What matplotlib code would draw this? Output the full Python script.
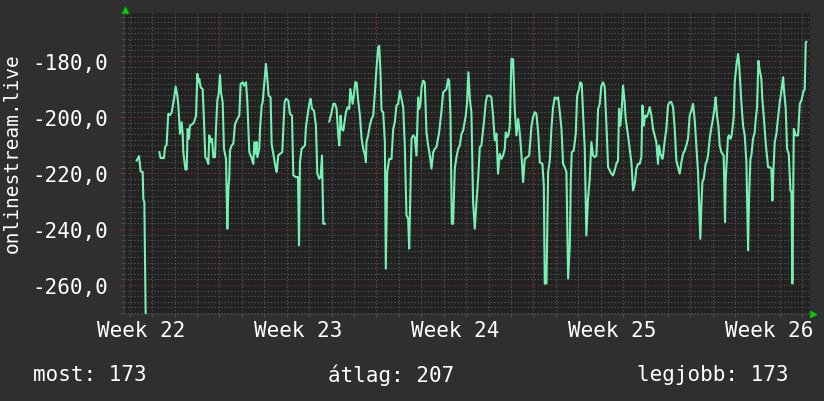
import matplotlib
matplotlib.use("Agg")
import matplotlib.pyplot as plt
from matplotlib.ticker import MultipleLocator, FuncFormatter

nan = float("nan")

# horas desde el inicio del primer dia visible, y posicion (negativa) en el ranking
horas = [
    7.5, 10.0, 11.7, 13.9, 14.6, 15.7, 17.4,
    24.0,
    31.7, 33.1, 36.7, 37.8, 39.5, 41.3, 43.1, 44.9, 47.4, 49.2, 51.0, 52.1,
    53.8, 55.6, 56.7, 57.4, 59.6, 61.0, 62.0, 63.5, 64.5, 67.4, 68.8, 71.0,
    72.4, 73.5, 74.5, 75.9, 78.1, 79.5, 80.9, 82.4, 84.2, 85.2, 86.7, 88.1,
    89.5, 91.3, 92.4, 93.8, 95.2, 96.6, 97.7, 99.5, 100.9, 103.1, 104.5, 105.6,
    106.6, 107.3, 109.1, 110.9, 112.7, 113.7, 115.2, 117.3, 118.7, 120.9, 122.3,
    124.5, 125.9, 128.0, 130.2, 132.3, 133.4, 135.1, 135.9, 136.6, 138.7, 139.4,
    141.2, 142.3, 144.8, 145.8, 147.3, 148.7, 150.8, 151.9, 153.7, 155.8, 157.3,
    159.0, 160.8, 163.3, 164.4, 165.8, 167.2, 169.7, 171.5, 173.7, 175.1, 177.9,
    180.1, 181.2, 182.2, 184.0, 185.8, 187.6, 188.6, 190.8, 192.2, 193.6, 195.1,
    197.2, 199.3, 200.8, 202.9, 204.3, 205.8, 207.2, 209.0,
    211.0,
    213.6, 216.1, 217.9, 219.7, 221.4, 223.2, 224.3, 225.7, 226.8, 228.6, 231.4,
    233.2, 235.0, 236.1, 237.5, 238.6, 240.0, 241.4, 242.8, 244.3, 246.4, 248.2,
    250.0, 251.8, 252.8, 253.4, 255.2, 257.0, 258.8, 260.6, 262.3, 264.1, 265.9,
    267.0, 268.4, 269.5, 271.3, 273.1, 274.1, 275.6, 277.7, 280.2, 282.0, 283.7,
    285.5, 287.3, 289.1, 290.9, 292.7, 294.4, 296.2, 298.0, 299.1, 300.5, 301.6,
    303.4, 305.1, 306.9, 308.7, 309.8, 311.2, 312.3, 314.1, 315.8, 317.6, 319.4,
    321.2, 323.0, 324.8, 326.5, 328.3, 331.2, 333.7, 335.4, 337.2, 339.0, 340.8,
    341.9, 343.3, 344.7, 346.1, 347.9, 349.7, 351.5, 353.3, 355.1, 356.8, 359.7,
    361.1, 362.5, 364.0, 365.7, 367.5, 369.3, 371.1, 372.9, 374.7, 376.4, 378.9,
    381.1, 382.5, 385.3, 387.1, 388.9, 390.7, 392.5, 394.2, 396.0, 397.8, 399.6,
    401.4, 402.5, 403.9, 405.3, 406.8, 408.5, 410.3, 412.1, 413.9, 415.7, 417.4,
    419.2, 421.0, 422.8, 425.3, 427.5, 430.0, 431.7, 433.5, 435.3, 437.1, 438.9,
    441.7, 443.2, 444.2, 446.0, 447.8, 449.6, 451.4, 453.1, 454.9, 456.7, 458.5,
    460.3, 462.1, 463.8, 465.6, 467.4, 469.2, 471.0, 472.1, 473.1, 475.2, 477.4,
    478.8, 480.9, 482.3, 483.8, 485.2, 487.0, 488.7, 490.5, 492.3, 494.1, 495.9,
    497.7, 499.5, 501.3, 503.0, 504.8, 506.6, 508.4, 510.2, 512.0, 513.7, 515.5,
    517.2, 519.0, 520.8, 522.6, 523.7, 525.1, 526.5, 528.0, 529.7, 530.8, 533.3,
    535.1, 536.9, 538.7, 540.5, 542.2, 544.0, 545.8, 547.6, 548.7, 550.1, 551.5,
    552.9, 554.7, 556.5, 558.3, 560.1, 561.8, 563.6, 565.4, 566.5, 567.9, 570.1,
    570.8, 572.6, 574.3, 576.1, 577.9, 579.7, 581.5, 583.3, 585.0, 586.8, 588.6,
    590.4, 592.2, 594.0, 595.7, 597.5, 599.3, 601.1, 602.9, 604.7, 606.4, 608.2,
    609.3, 610.7, 611.8, 612.9, 614.3, 616.4, 617.8, 618.9, 620.7, 622.5, 624.2,
    626.0, 627.1, 628.5, 630.0, 631.4, 633.2, 635.7, 637.1, 637.8, 639.2, 640.3,
    641.4, 642.8, 643.9, 645.0, 646.4, 647.5, 649.3, 651.1, 652.1, 652.8, 654.6,
    656.4, 658.2, 660.0, 661.8, 662.8, 664.3, 665.3, 667.1, 668.9, 670.0, 671.4,
    672.8, 674.3, 676.0, 677.1, 678.5, 680.7, 683.2, 685.0, 686.7, 687.8, 688.9,
    690.3, 692.1, 693.9, 695.7, 697.5, 699.3, 700.3, 702.1, 703.5, 705.3, 707.1,
    708.2, 709.2, 710.7, 712.8, 715.3, 717.1, 718.9, 720.7, 722.4, 723.5, 724.2,
]
rango = [
    -215.5, -213.9, -219.4, -219.6, -229.2, -230.4, -280.0,
    nan,
    -212.5, -214.6, -214.6, -210.7, -209.9, -198.8, -199.2, -198.4, -193.4, -189.0, -192.3, -195.8,
    -205.9, -201.8, -205.9, -212.5, -218.7, -218.7, -204.2, -207.7, -203.0, -202.4, -201.8, -199.4,
    -184.5, -187.5, -186.3, -189.3, -189.9, -201.2, -214.3, -214.9, -216.7, -206.5, -208.9, -207.7,
    -214.3, -214.3, -203.6, -194.0, -191.7, -184.9, -191.1, -194.6, -211.3, -214.9, -239.9, -225.6,
    -221.4, -211.9, -210.1, -209.5, -202.4, -201.8, -200.6, -199.4, -188.1, -187.5, -188.7,
    -187.5, -194.6, -212.5, -214.3, -216.7, -208.9, -213.1, -208.9, -214.3, -211.3, -204.8,
    -195.8, -194.6, -185.1, -180.9, -186.3, -192.3, -192.9, -209.5, -213.1, -217.3, -219.6,
    -213.7, -213.1, -212.5, -204.2, -194.6, -193.4, -194.0, -198.8, -199.4, -220.8, -221.4,
    -221.4, -245.8, -216.1, -211.3, -210.7, -210.1, -203.6, -198.2, -195.2, -193.4, -197.0,
    -197.6, -203.0, -220.2, -222.0, -221.4, -213.7, -238.1, -238.1,
    nan,
    -201.5, -198.2, -195.2, -195.2, -197.0, -206.5, -210.1, -199.4, -204.2, -204.8, -198.2,
    -196.4, -197.0, -189.9, -192.9, -195.2, -191.7, -187.5, -187.5, -193.4, -199.4, -207.7,
    -211.3, -213.7, -216.1, -208.9, -206.5, -203.0, -200.6, -199.4, -191.7, -182.7, -175.0,
    -174.4, -183.9, -197.6, -198.2, -208.9, -254.2, -219.6, -214.9, -214.9, -204.2, -201.8,
    -195.8, -195.2, -190.5, -193.4, -196.4, -210.1, -235.1, -236.3, -247.0, -225.6, -207.7,
    -206.5, -207.1, -213.7, -192.9, -197.0, -195.2, -189.3, -186.9, -187.5, -205.4, -210.1,
    -213.7, -218.4, -212.5, -211.3, -210.7, -205.4, -197.6, -191.1, -190.5, -189.9, -186.3,
    -186.9, -199.4, -238.1, -238.1, -218.4, -214.3, -211.3, -210.1, -205.9, -204.8, -199.4,
    -194.6, -183.9, -193.4, -198.2, -230.4, -239.9, -230.4, -222.0, -210.7, -210.1, -202.4,
    -194.6, -192.3, -192.3, -192.9, -199.4, -208.3, -205.9, -220.2, -213.1, -214.9, -213.7,
    -211.3, -205.4, -207.1, -206.5, -203.0, -179.2, -179.2, -197.0, -206.5, -200.6, -205.4,
    -213.1, -223.2, -214.9, -214.3, -213.7, -203.0, -200.0, -198.2, -198.8, -205.4, -216.1,
    -216.7, -224.4, -259.5, -259.5, -219.6, -215.5, -203.6, -196.4, -192.9, -193.4, -192.9,
    -198.2, -204.2, -216.7, -217.9, -219.6, -257.7, -245.8, -222.0, -212.5, -211.9, -205.9,
    -192.3, -189.9, -187.5, -188.1, -198.8, -211.3, -242.3, -229.2, -222.0, -208.9, -213.7,
    -214.3, -213.7, -197.0, -195.2, -188.7, -187.5, -189.3, -203.0, -217.9, -219.0, -220.2,
    -220.8, -219.0, -216.7, -215.5, -197.0, -203.0, -197.6, -188.7, -194.6, -200.6, -206.5,
    -211.3, -216.1, -226.2, -223.8, -218.4, -216.7, -216.7, -214.3, -195.8, -203.0, -199.4,
    -200.0, -198.8, -196.4, -199.4, -204.2, -206.5, -208.9, -216.7, -210.1, -213.1, -214.9,
    -213.7, -208.3, -204.2, -195.8, -194.6, -194.6, -196.4, -204.2, -215.5, -217.9, -220.2,
    -216.1, -213.1, -211.9, -210.1, -207.7, -199.4, -197.6, -195.2, -201.2, -210.1, -219.6,
    -230.4, -243.5, -231.5, -223.2, -222.0, -216.7, -215.5, -213.7, -207.7, -203.6, -200.6,
    -196.4, -192.9, -199.4, -203.0, -210.1, -212.5, -213.7, -237.5, -223.2, -213.7, -207.1,
    -206.5, -207.7, -207.1, -204.2, -200.0, -187.5, -181.5, -177.4, -180.4, -184.5, -194.6,
    -203.0, -206.5, -216.1, -247.6, -229.2, -214.9, -213.7, -207.7, -205.4, -200.6, -196.4,
    -179.8, -183.3, -186.3, -194.0, -199.4, -209.5, -217.9, -217.9, -218.4, -229.8, -219.0,
    -208.9, -205.9, -200.0, -194.6, -190.5, -185.7, -190.5, -197.0, -211.3, -213.1, -226.2,
    -226.8, -259.5, -204.2, -206.5, -206.5, -195.2, -194.0, -191.1, -189.9, -173.2, -173.0,
]

semanas = ["Week 22", "Week 23", "Week 24", "Week 25", "Week 26"]
pos_semanas = [12, 180, 348, 516, 684]
inicio_semanas = [96, 264, 432, 600]
leyenda = ["most: 173", "átlag: 207", "legjobb: 173"]
titulo_y = "onlinestream.live"

fondo = "#2f2f2f"
fondo_graf = "#222222"
color_linea = "#78f0b4"
gris = "#5c5c5c"
rojo = "#8a3434"
puntos = (0, (1, 2))

plt.rcParams["font.family"] = ["DejaVu Sans Mono"]

fig = plt.figure(figsize=(8.24, 4.02), dpi=100, facecolor=fondo)
ax = fig.add_axes([0.1499, 0.2164, 0.8326, 0.7488], facecolor=fondo_graf)
ax.set_xlim(-6.6, 727.6)
ax.set_ylim(-270.4, -162.7)

# rejilla: dias y cada 2 puestos en gris, semanas y cada 20 en rojo
ax.xaxis.set_minor_locator(MultipleLocator(24))
ax.yaxis.set_minor_locator(MultipleLocator(2))
ax.yaxis.set_major_locator(MultipleLocator(20))
ax.grid(which="minor", color=gris, ls=puntos, lw=0.8)
ax.grid(which="major", axis="y", color=rojo, ls=puntos, lw=0.8)
for h in inicio_semanas:
    ax.axvline(h, color=rojo, ls=puntos, lw=0.8)
ax.set_axisbelow(True)

ax.set_xticks(pos_semanas)
ax.set_xticklabels(semanas)
ax.yaxis.set_major_formatter(FuncFormatter(lambda v, p: f"{v:.1f}".replace(".", ",")))

ax.tick_params(axis="x", which="major", length=0, pad=4.5, labelsize=15, colors="white")
ax.tick_params(axis="y", which="major", length=3, pad=8, labelsize=15, colors="white")
ax.tick_params(which="minor", length=2, color=gris)
ax.tick_params(axis="y", which="major", color=rojo)

for lado in ["top", "right"]:
    ax.spines[lado].set_visible(False)
for lado in ["left", "bottom"]:
    ax.spines[lado].set_color("#3c3c3c")

ax.plot(horas, rango, color=color_linea, lw=1.5)

# flechitas verdes de los ejes
ax.plot([0.002], [1.01], marker="^", ms=5, color="#00cc00", transform=ax.transAxes, clip_on=False)
ax.plot([1.005], [0.0], marker=">", ms=5, color="#00cc00", transform=ax.transAxes, clip_on=False)

fig.text(12 / 824, 1 - 153 / 402, titulo_y, rotation=90, ha="center", va="center",
         color="white", fontsize=14)
for texto, x in zip(leyenda, [33, 328, 637]):
    fig.text(x / 824, 1 - 375 / 402, texto, ha="left", va="center", color="white", fontsize=15)

fig.savefig("out.png", dpi=100, facecolor=fondo)
